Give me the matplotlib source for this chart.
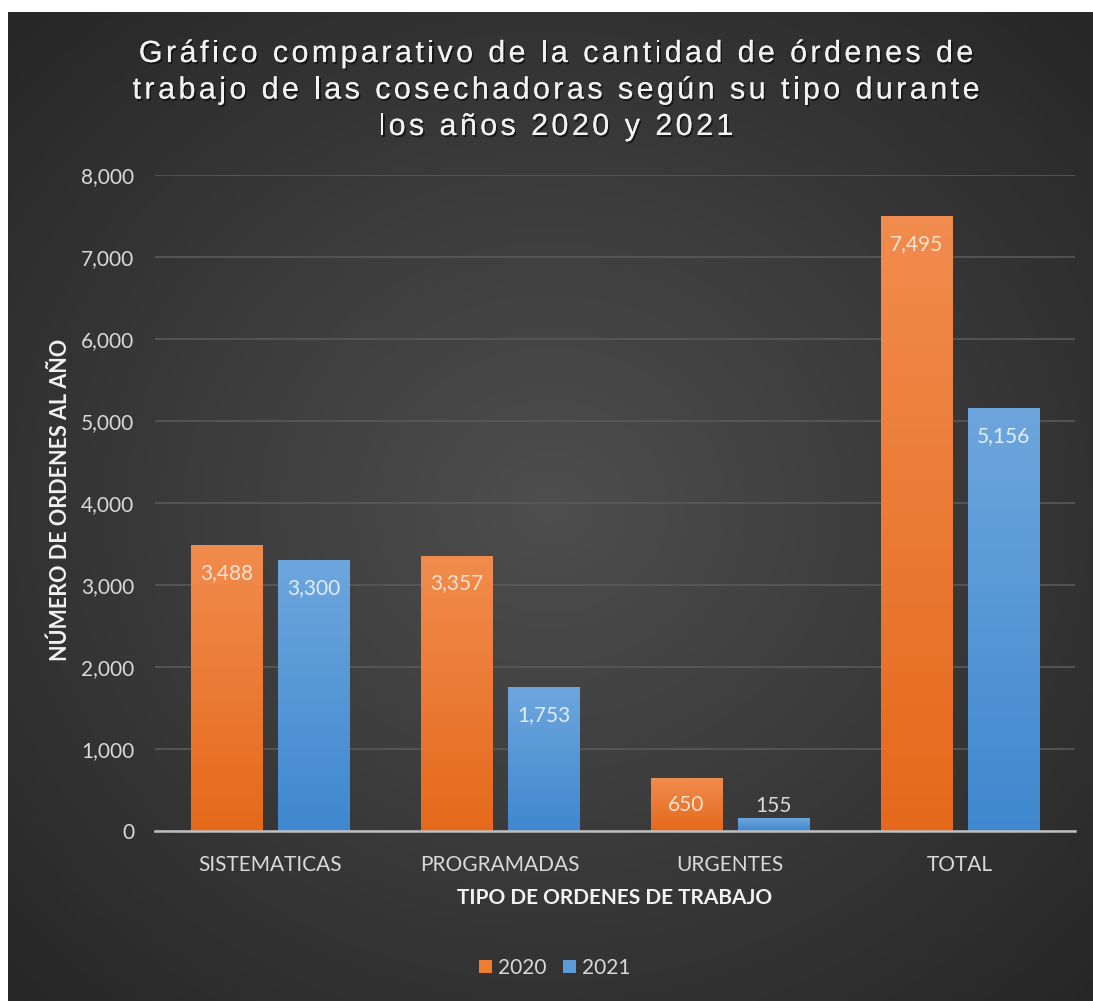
import numpy as np
import matplotlib
matplotlib.use('Agg')
import matplotlib.pyplot as plt
from matplotlib.colors import LinearSegmentedColormap
from matplotlib.font_manager import FontProperties
import matplotlib.patheffects as pe

categorias = ['SISTEMATICAS', 'PROGRAMADAS', 'URGENTES', 'TOTAL']
ordenes_2020 = [3488, 3357, 650, 7495]
ordenes_2021 = [3300, 1753, 155, 5156]
anios = ['2020', '2021']
yticks = [0, 1000, 2000, 3000, 4000, 5000, 6000, 7000, 8000]

titulo = ['Gráfico comparativo de la cantidad de órdenes de',
          'trabajo de las cosechadoras según su tipo durante',
          'los años 2020 y 2021']

W, H = 1093, 1001
fig = plt.figure(figsize=(W / 100, H / 100), dpi=100, facecolor='white')

# fondo oscuro con degradado radial
bg = fig.add_axes([8 / W, 0, 1 - 8 / W, (H - 12) / H])
bg.set_axis_off()
yy, xx = np.mgrid[0:1:400j, 0:1:440j]
r = np.sqrt(((xx - 0.5) / 0.75) ** 2 + ((yy - 0.5) / 0.75) ** 2)
r = np.clip(r / 0.95, 0, 1)
cmap_bg = LinearSegmentedColormap.from_list('bg', ['#4e4e4e', '#3a3a3a', '#262626'])
bg.imshow(r, cmap=cmap_bg, aspect='auto', extent=[0, 1, 0, 1], vmin=0, vmax=1)

ax = fig.add_axes([155 / W, (H - 831) / H, (1075 - 155) / W, (831 - 175) / H])
ax.patch.set_alpha(0)

x = np.arange(len(categorias))
ancho = 0.31
desp = 0.19
b1 = ax.bar(x - desp, ordenes_2020, ancho, color='#ED7D31', zorder=3, label=anios[0])
b2 = ax.bar(x + desp, ordenes_2021, ancho, color='#5B9BD5', zorder=3, label=anios[1])

# degradado vertical dentro de cada barra
grad = np.linspace(0, 1, 256).reshape(-1, 1)
cm_or = LinearSegmentedColormap.from_list('or', ['#E5691B', '#F18C4E'])
cm_bl = LinearSegmentedColormap.from_list('bl', ['#3F88CF', '#6DA6DD'])
for barras, cm in ((b1, cm_or), (b2, cm_bl)):
    for p in barras:
        x0, y0 = p.get_x(), p.get_y()
        im = ax.imshow(grad, cmap=cm, aspect='auto', origin='lower',
                       extent=[x0, x0 + p.get_width(), y0, y0 + p.get_height()],
                       zorder=3.5)
        im.set_clip_path(p)

ax.set_xlim(-0.5, 3.5)
ax.set_ylim(0, 8000)
ax.set_yticks(yticks)
ax.set_yticklabels([f'{v:,}' for v in yticks])
ax.set_xticks(x)
ax.set_xticklabels(categorias)
ax.grid(axis='y', color='#595959', linewidth=1.2, zorder=0)
for s in ['top', 'right', 'left']:
    ax.spines[s].set_visible(False)
ax.spines['bottom'].set_color('#bfbfbf')
ax.spines['bottom'].set_linewidth(1.8)
ax.spines['bottom'].set_zorder(5)
ax.tick_params(axis='both', length=0, colors='#d9d9d9', labelsize=15)
ax.tick_params(axis='y', pad=15)
ax.tick_params(axis='x', pad=17)
for t in ax.get_xticklabels() + ax.get_yticklabels():
    t.set_fontfamily('Lato')

# etiquetas de datos
for barras, vals in ((b1, ordenes_2020), (b2, ordenes_2021)):
    for p, v in zip(barras, vals):
        cx = p.get_x() + p.get_width() / 2
        if v > 400:
            ax.annotate(f'{v:,}', (cx, v), xytext=(0, -20), textcoords='offset points',
                        ha='center', va='center', color='#f8e2d2' if barras is b1 else '#e3edf7',
                        fontsize=15, family='Lato', zorder=6)
        else:
            ax.annotate(f'{v:,}', (cx, v), xytext=(0, 2), textcoords='offset points',
                        ha='center', va='bottom', color='#d9d9d9',
                        fontsize=15, family='Lato', zorder=6)

# titulo con espaciado entre letras
fp_tit = FontProperties(family='Liberation Sans', size=22)
renderer = fig.canvas.get_renderer()
_anchos = {}


def ancho_car(c):
    if c not in _anchos:
        t1 = fig.text(0, 0, 'a' + c + 'a', fontproperties=fp_tit)
        t2 = fig.text(0, 0, 'aa', fontproperties=fp_tit)
        _anchos[c] = t1.get_window_extent(renderer).width - t2.get_window_extent(renderer).width
        t1.remove()
        t2.remove()
    return _anchos[c]


linea_ref = titulo[1]
natural = sum(ancho_car(c) for c in linea_ref)
espacio = (847 - natural) / (len(linea_ref) - 1)
sombra = [pe.withSimplePatchShadow(offset=(1.2, -1.5), shadow_rgbFace='black', alpha=0.55),
          pe.Normal()]
for linea, base in zip(titulo, [62, 98.5, 135]):
    total = sum(ancho_car(c) for c in linea) + espacio * (len(linea) - 1)
    xp = 556 - total / 2
    for c in linea:
        if c != ' ':
            fig.text(xp / W, 1 - base / H, c, fontproperties=fp_tit, color='#f2f2f2',
                     ha='left', va='baseline', path_effects=sombra)
        xp += ancho_car(c) + espacio

fig.text(615 / W, 1 - 898 / H, 'TIPO DE ORDENES DE TRABAJO', ha='center', va='center',
         color='#f2f2f2', fontsize=15, fontweight='bold', family='Lato')
fig.text(60 / W, 1 - 500 / H, 'NÚMERO DE ORDENES AL AÑO', ha='center', va='center',
         rotation=90, color='#f2f2f2', fontsize=15.5, fontweight='bold', family='Lato')

leg = fig.legend(handles=[b1, b2], labels=anios, loc='center', bbox_to_anchor=(555 / W, 1 - 968 / H),
                 ncol=2, frameon=False, handlelength=0.6, handleheight=0.6, handletextpad=0.3,
                 columnspacing=0.8, prop={'family': 'Lato', 'size': 15})
for t in leg.get_texts():
    t.set_color('#d9d9d9')

fig.savefig('out.png', dpi=100, facecolor=fig.get_facecolor())
